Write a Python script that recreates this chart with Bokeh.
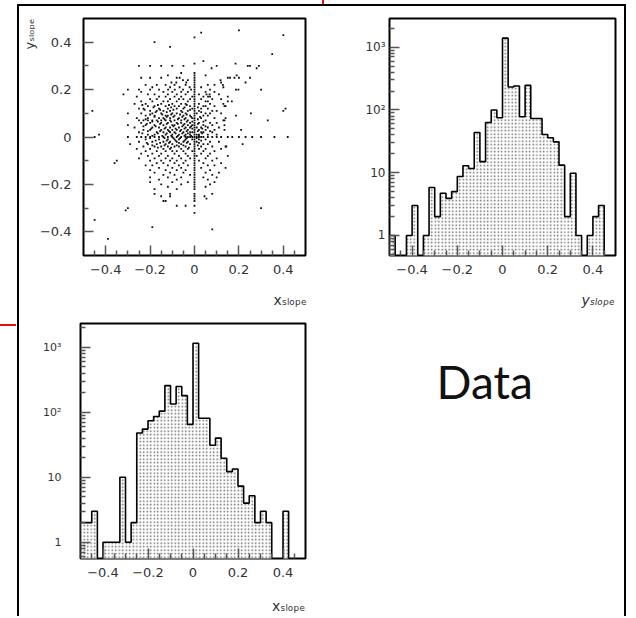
from bokeh.plotting import figure
from bokeh.models import Range1d, FixedTicker, CustomJSTickFormatter, Label, Title, InlineStyleSheet
from bokeh.layouts import row, column
from bokeh.embed import file_html
from bokeh.resources import INLINE

# ---------------- data ----------------
slope_ticks = [-0.4, -0.2, 0.0, 0.2, 0.4]
slope_tick_labels = ["\u22120.4", "\u22120.2", "0", "0.2", "0.4"]
x_minor_ticks = [-0.45, -0.35, -0.3, -0.25, -0.15, -0.1, -0.05, 0.05, 0.1, 0.15, 0.25, 0.3, 0.35, 0.45]
y_minor_ticks = [-0.3, -0.1, 0.1, 0.3]
log_ticks = [1, 10, 100, 1000]
log_tick_labels = ["1", "10", "10\u00b2", "10\u00b3"]
log_minor_ticks = [0.5, 0.6, 0.7, 0.8, 0.9,
                   2, 3, 4, 5, 6, 7, 8, 9,
                   20, 30, 40, 50, 60, 70, 80, 90,
                   200, 300, 400, 500, 600, 700, 800, 900, 2000]
SUB_SLOPE = "\u209b\u2097\u2092\u209a\u2091"   # subscript "slope"
x_title = "x" + SUB_SLOPE
y_title = "y" + SUB_SLOPE

# histogram binning (40 bins of 0.025 from -0.5 to 0.5)
bin_low = -0.5
bin_width = 0.025
yslope_counts = [1, 0, 0, 1, 3, 0, 1, 5.8, 2, 4.7,
                 3.9, 5, 8.7, 12.9, 11.7, 43.6, 15, 63, 100, 75,
                 1390, 232, 240, 78, 246, 73, 73, 40.6, 36, 31,
                 13.2, 2, 9.8, 1, 0, 1, 2, 3, 0, 0]
xslope_counts = [2, 2, 3, 0, 1, 1, 1, 10, 1, 2,
                 48, 55, 74, 86, 104, 257, 134, 249, 180, 65,
                 1150, 81, 81, 31, 40, 19.6, 12.2, 13.4, 7.3, 4,
                 5.2, 2, 3, 2, 0, 0, 3, 0, 0, 0]

# scatter: rows of y_slope, each with the x_slope values read along that row
scatter_row_y = [
    0.45, 0.44, 0.43, 0.42, 0.40, 0.38, 0.35, 0.32, 0.31, 0.30,
    0.29, 0.27, 0.26, 0.25, 0.24, 0.23, 0.22, 0.21, 0.20, 0.19,
    0.18, 0.17, 0.16, 0.15, 0.14, 0.13, 0.12, 0.11, 0.10, 0.09,
    0.08, 0.07, 0.06, 0.05, 0.04, 0.03, 0.02, 0.01, 0.00, -0.01,
    -0.02, -0.03, -0.04, -0.05, -0.06, -0.07, -0.08, -0.09, -0.10, -0.11,
    -0.12, -0.13, -0.14, -0.15, -0.16, -0.17, -0.18, -0.19, -0.20, -0.21,
    -0.22, -0.24, -0.25, -0.26, -0.27, -0.29, -0.30, -0.31, -0.32, -0.35,
    -0.38, -0.39, -0.43,
    0.135, 0.125, 0.115, 0.105, 0.095, 0.085, 0.075, 0.065, 0.055, 0.045,
    0.035, 0.025, 0.015, 0.005, -0.005, -0.015, -0.025, -0.035, -0.045,
]
scatter_row_x = [
    [0.20], [0.03], [0.40], [0.0], [-0.18], [-0.11], [0.35], [0.04], [0.185, 0.0],
    [-0.25, -0.20, -0.15, -0.10, -0.05, 0.10, 0.24, 0.25, 0.29],
    [0.077, 0.28],
    [-0.06, 0.0],
    [-0.12, 0.0, 0.05, 0.19],
    [-0.24, -0.20, -0.15, -0.08, -0.067, 0.0, 0.15, 0.16, 0.18, 0.20, 0.25],
    [-0.052, -0.03, 0.0, 0.117],
    [-0.104, -0.082, -0.037, 0.0, 0.12, 0.23],
    [-0.22, -0.17, -0.13, -0.09, -0.04, 0.0, 0.06, 0.09, 0.128],
    [-0.19, -0.11, -0.067, -0.022, 0.0, 0.03, 0.13],
    [-0.30, -0.25, -0.20, -0.16, -0.119, -0.089, -0.052, -0.015, 0.0, 0.07, 0.187, 0.198, 0.30],
    [-0.24, -0.14, -0.10, -0.06, -0.03, 0.0, 0.05, 0.09],
    [-0.32, -0.21, -0.18, -0.12, -0.08, -0.04, 0.0, 0.02, 0.054, 0.068, 0.11],
    [-0.26, -0.16, -0.13, -0.09, -0.06, -0.01, 0.0, 0.04, 0.061, 0.07, 0.15],
    [-0.20, -0.17, -0.11, -0.07, -0.05, -0.02, 0.0, 0.03, 0.08, 0.12],
    [-0.24, -0.19, -0.14, -0.12, -0.08, -0.03, 0.0, 0.05, 0.06, 0.15, 0.168],
    [-0.27, -0.22, -0.15, -0.10, -0.06, -0.04, 0.0, 0.02, 0.07, 0.13],
    [-0.21, -0.18, -0.13, -0.09, -0.07, -0.02, 0.0, 0.04, 0.05, 0.09, 0.135, 0.14],
    [-0.25, -0.23, -0.16, -0.12, -0.08, -0.05, -0.01, 0.0, 0.03, 0.06, 0.41],
    [-0.46, -0.20, -0.17, -0.14, -0.11, -0.06, -0.03, 0.0, 0.02, 0.08, 0.10, 0.40],
    [-0.30, -0.24, -0.19, -0.15, -0.10, -0.08, -0.04, 0.0, 0.01, 0.05, 0.07, 0.12, 0.254],
    [-0.22, -0.18, -0.13, -0.12, -0.09, -0.05, -0.02, 0.0, 0.04, 0.06, 0.187],
    [-0.26, -0.21, -0.16, -0.14, -0.11, -0.07, -0.04, -0.01, 0.0, 0.03, 0.09, 0.14],
    [-0.25, -0.23, -0.21, -0.19, -0.17, -0.15, -0.13, -0.11, -0.09, -0.06, -0.03, 0.0, 0.05, 0.13, 0.135, 0.33],
    [-0.24, -0.20, -0.15, -0.12, -0.08, -0.06, -0.02, 0.0, 0.02, 0.07, 0.10],
    [-0.30, -0.22, -0.18, -0.14, -0.10, -0.09, -0.05, -0.03, -0.01, 0.0, 0.04, 0.08, 0.135],
    [-0.27, -0.19, -0.16, -0.13, -0.11, -0.07, -0.04, -0.02, 0.0, 0.01, 0.03, 0.06, 0.11],
    [-0.23, -0.20, -0.15, -0.12, -0.10, -0.08, -0.06, -0.03, 0.0, 0.02, 0.05, 0.09, 0.135, 0.21],
    [-0.25, -0.17, -0.14, -0.11, -0.09, -0.05, -0.02, -0.01, 0.0, 0.03, 0.04, 0.08],
    [-0.43, -0.21, -0.18, -0.13, -0.10, -0.07, -0.04, -0.02, 0.0, 0.01, 0.02, 0.06, 0.10],
    [-0.45, -0.30, -0.26, -0.24, -0.22, -0.20, -0.18, -0.16, -0.14, -0.12, -0.10, -0.08, -0.06,
     -0.04, -0.03, -0.02, -0.01, 0.0, 0.01, 0.02, 0.03, 0.04, 0.06, 0.08, 0.10, 0.12, 0.15,
     0.17, 0.20, 0.23, 0.26, 0.30, 0.36, 0.42],
    [-0.22, -0.16, -0.12, -0.09, -0.07, -0.04, -0.01, 0.0, 0.02, 0.05],
    [-0.25, -0.19, -0.14, -0.11, -0.08, -0.05, -0.03, 0.0, 0.01, 0.07, 0.11],
    [-0.29, -0.21, -0.17, -0.13, -0.10, -0.06, -0.02, 0.0, 0.04, 0.06, 0.217],
    [-0.23, -0.18, -0.15, -0.12, -0.09, -0.07, -0.04, 0.0, 0.03, 0.08, 0.14, 0.143],
    [-0.26, -0.20, -0.14, -0.11, -0.06, -0.03, 0.0, 0.02, 0.05, 0.12],
    [-0.22, -0.17, -0.13, -0.10, -0.08, -0.05, -0.01, 0.0, 0.04, 0.09],
    [-0.24, -0.19, -0.15, -0.09, -0.04, 0.0, 0.03, 0.07],
    [-0.21, -0.16, -0.12, -0.07, -0.03, 0.0, 0.01, 0.06, 0.15],
    [-0.25, -0.18, -0.13, -0.10, -0.06, -0.02, 0.0, 0.05, 0.10],
    [-0.35, -0.20, -0.15, -0.11, -0.08, -0.04, 0.0, 0.02, 0.08],
    [-0.36, -0.17, -0.14, -0.09, -0.05, 0.0, 0.04, 0.12],
    [-0.22, -0.19, -0.12, -0.07, -0.03, 0.0, 0.06, 0.09],
    [-0.16, -0.10, -0.06, 0.0, 0.03, 0.14],
    [-0.20, -0.13, -0.08, -0.04, 0.0, 0.07],
    [-0.18, -0.11, -0.05, 0.0, 0.05, 0.11],
    [-0.14, -0.09, -0.02, 0.0, 0.08],
    [-0.20, -0.12, -0.06, 0.0, 0.04, 0.10],
    [-0.16, -0.08, 0.0, 0.06],
    [-0.20, -0.10, -0.03, 0.0, 0.09],
    [-0.15, -0.06, 0.0, 0.07],
    [-0.12, 0.0, 0.05],
    [-0.18, -0.08, 0.0],
    [-0.18, -0.11, 0.0, 0.08],
    [-0.15, -0.11, 0.0, 0.045],
    [0.0, 0.054],
    [-0.14, -0.13, 0.0],
    [-0.08, -0.04, 0.0],
    [-0.30, 0.30],
    [-0.31],
    [0.0],
    [-0.45],
    [-0.19],
    [0.08],
    [-0.39],
    # denser core (half-step rows)
    [-0.235, -0.165, -0.115, -0.035],
    [-0.185, -0.105, -0.045, 0.015],
    [-0.225, -0.155, -0.095, -0.02],
    [-0.175, -0.125, -0.055, 0.03],
    [-0.20, -0.145, -0.105, -0.065, -0.035],
    [-0.18, -0.125, -0.095, -0.055, -0.015, 0.025],
    [-0.22, -0.135, -0.075, -0.045, 0.015],
    [-0.19, -0.165, -0.105, -0.035, -0.01, 0.04],
    [-0.215, -0.155, -0.125, -0.075, -0.045, 0.015],
    [-0.23, -0.175, -0.095, -0.055, -0.015, 0.05],
    [-0.195, -0.135, -0.085, -0.045, -0.01, 0.035],
    [-0.21, -0.155, -0.115, -0.065, -0.035, 0.015, 0.07],
    [-0.235, -0.165, -0.125, -0.085, -0.055, -0.03, 0.035],
    [-0.19, -0.145, -0.105, -0.075, -0.045, -0.015, 0.02],
    [-0.20, -0.135, -0.095, -0.065, -0.035, 0.01],
    [-0.175, -0.125, -0.085, -0.045, 0.03],
    [-0.215, -0.155, -0.115, -0.07, -0.035, 0.02],
    [-0.19, -0.135, -0.08, -0.05, 0.015],
    [-0.165, -0.105, -0.025],
]

# ---------------- helpers ----------------
FONT = "DejaVu Sans"
TXT = "#333333"
PAD = "\u00a0" * 43   # no-break spaces: push the centred axis title to the axis' right end


def tick_formatter(values, texts):
    return CustomJSTickFormatter(
        args=dict(tick_values=values, tick_texts=texts),
        code="""
        for (let i = 0; i < tick_values.length; i++) {
            if (Math.abs(tick_values[i] - tick) < 1e-9 * Math.max(1, Math.abs(tick))) return tick_texts[i];
        }
        return "";
        """)


def style_axis(ax, size, standoff):
    ax.major_tick_in = 10
    ax.major_tick_out = 0
    ax.minor_tick_in = 5
    ax.minor_tick_out = 0
    ax.major_tick_line_color = "#555555"
    ax.major_tick_line_width = 1.5
    ax.minor_tick_line_color = "#555555"
    ax.minor_tick_line_width = 1.5
    ax.axis_line_color = None
    ax.major_label_text_font = FONT
    ax.major_label_text_font_size = size
    ax.major_label_text_color = TXT
    ax.major_label_standoff = standoff


def base_fig(width, height, y_range, y_type, borders):
    left, right, top, bottom = borders
    p = figure(width=width, height=height,
               x_range=Range1d(-0.5, 0.5), y_range=y_range, y_axis_type=y_type,
               output_backend="svg", toolbar_location=None,
               min_border_left=left, min_border_right=right,
               min_border_top=top, min_border_bottom=bottom)
    p.xgrid.visible = False
    p.ygrid.visible = False
    p.outline_line_color = "black"
    p.outline_line_width = 2
    p.background_fill_color = "white"
    p.border_fill_color = "white"
    p.xaxis.ticker = FixedTicker(ticks=slope_ticks, minor_ticks=x_minor_ticks)
    p.xaxis.formatter = tick_formatter(slope_ticks, slope_tick_labels)
    style_axis(p.xaxis[0], "13px", 9)
    return p


def add_x_title(ax, text, standoff, italic=False):
    """x-axis title at the right end of the axis (ROOT style)."""
    ax.axis_label = PAD + text
    ax.axis_label_standoff = standoff
    ax.axis_label_text_font = FONT
    ax.axis_label_text_font_size = "14px"
    ax.axis_label_text_font_style = "italic" if italic else "normal"
    ax.axis_label_text_color = TXT


def draw_hist(p, counts):
    floor = 1e-3
    lefts = [bin_low + i * bin_width for i in range(len(counts))]
    rights = [l + bin_width for l in lefts]
    tops = [c if c > 0 else floor for c in counts]
    p.quad(left=lefts, right=rights, top=tops, bottom=floor,
           fill_color="white", line_color=None,
           hatch_pattern="dot", hatch_color="#666666", hatch_scale=3.5, hatch_weight=1.0)
    xs = [lefts[0]]
    ys = [floor]
    for l, r, t in zip(lefts, rights, tops):
        xs += [l, r]
        ys += [t, t]
    xs.append(rights[-1])
    ys.append(floor)
    p.line(xs, ys, line_color="black", line_width=1.6)


def log_axis(p, size, standoff):
    p.yaxis.ticker = FixedTicker(ticks=log_ticks, minor_ticks=log_minor_ticks)
    p.yaxis.formatter = tick_formatter(log_ticks, log_tick_labels)
    style_axis(p.yaxis[0], size, standoff)


# ---------------- top-left: scatter ----------------
sx, sy = [], []
for yv, xs_row in zip(scatter_row_y, scatter_row_x):
    for xv in xs_row:
        sx.append(xv)
        sy.append(yv)

p1 = base_fig(330, 304, Range1d(-0.5, 0.5), "linear", (62, 44, 12, 55))
p1.yaxis.ticker = FixedTicker(ticks=slope_ticks, minor_ticks=y_minor_ticks)
p1.yaxis.formatter = tick_formatter(slope_ticks, slope_tick_labels)
style_axis(p1.yaxis[0], "13px", 12)
p1.scatter(sx, sy, marker="square", size=1.8, fill_color="#111111", line_color=None)
add_x_title(p1.xaxis[0], x_title, 15)
p1.add_layout(Title(text=y_title, align="right", standoff=0, text_font=FONT,
                    text_font_size="13px", text_font_style="normal", text_color=TXT), "left")

# ---------------- top-right: y_slope histogram ----------------
p2 = base_fig(275, 304, Range1d(0.48, 2860), "log", (40, 9, 12, 55))
log_axis(p2, "12px", 4)
draw_hist(p2, yslope_counts)
add_x_title(p2.xaxis[0], y_title, 15, italic=True)

# ---------------- bottom-left: x_slope histogram ----------------
p3 = base_fig(330, 306, Range1d(0.562, 2320), "log", (61, 44, 13, 58))
log_axis(p3, "11px", 19)
draw_hist(p3, xslope_counts)
add_x_title(p3.xaxis[0], x_title, 18)

# ---------------- bottom-right: "Data" ----------------
p4 = figure(width=275, height=306, x_range=Range1d(0, 275), y_range=Range1d(306, 0),
            output_backend="svg", toolbar_location=None,
            min_border=0, min_border_left=0, min_border_right=0,
            min_border_top=0, min_border_bottom=0)
p4.axis.visible = False
p4.xgrid.visible = False
p4.ygrid.visible = False
p4.outline_line_color = None
p4.add_layout(Label(x=87, y=76, text="Data", text_font="Lato", text_font_size="46px",
                    text_color="#111111", text_baseline="alphabetic"))

css = InlineStyleSheet(css="""
:host { position: relative; }
:host::before { content: ""; position: absolute; left: 303px; top: -6px; width: 2px; height: 4px; background: #e01010; }
:host::after { content: ""; position: absolute; left: -19px; top: 318px; width: 16px; height: 2px; background: #e01010; }
""")

root = column(row(p1, p2), row(p3, p4), margin=(4, 0, 0, 17),
              styles={"border-top": "2px solid black", "border-left": "2px solid black",
                      "border-right": "2px solid black"},
              stylesheets=[css])

open("out.html", "w").write(file_html(root, INLINE))
